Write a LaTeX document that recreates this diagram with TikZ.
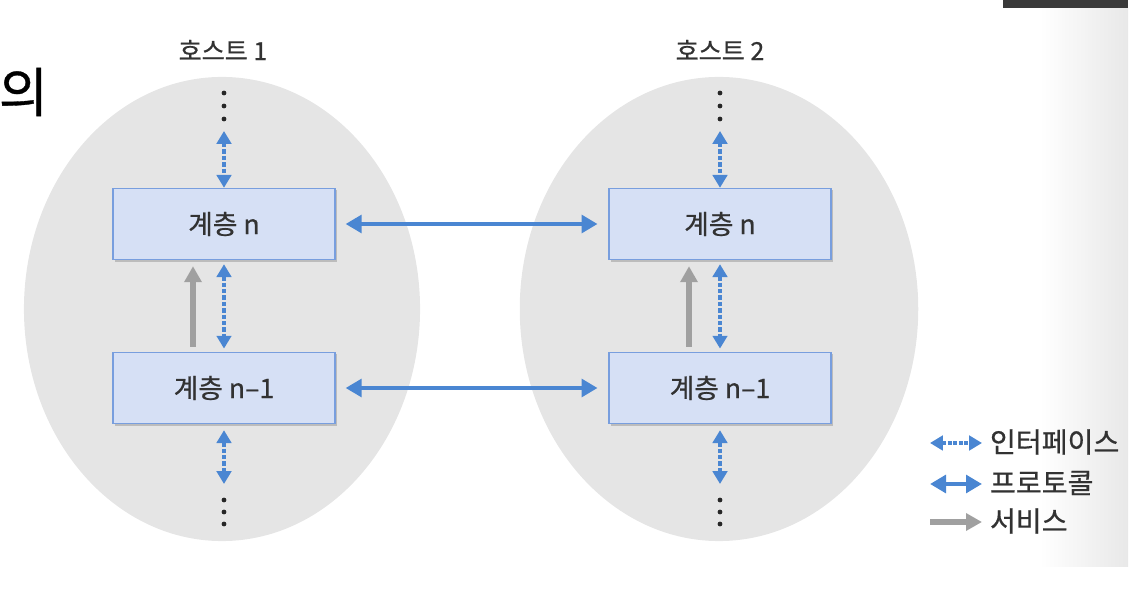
\documentclass[tikz,border=0pt]{standalone}
\usepackage{fontspec}
\setmainfont{Noto Sans CJK KR}[FakeBold=0.6]
\usetikzlibrary{arrows.meta}
\usetikzlibrary{calc}
\usetikzlibrary{shadows}
\definecolor{layerblue}{RGB}{74,134,210}
\definecolor{layerfill}{RGB}{214,224,245}
\definecolor{layerline}{RGB}{120,158,222}
\definecolor{hostgray}{RGB}{229,229,229}
\definecolor{servicegray}{RGB}{160,160,160}
\definecolor{textgray}{RGB}{50,50,50}
\definecolor{bardark}{RGB}{58,58,58}
\tikzstyle{layerbox}=[draw=layerline,line width=0.3mm,fill=layerfill,minimum width=5.55cm,minimum height=1.78cm,text=textgray,font=\fontsize{19}{22}\selectfont,drop shadow={shadow xshift=0.5mm,shadow yshift=-0.5mm,opacity=0.4,fill=gray}]
\tikzstyle{protocol}=[draw=layerblue,line width=1mm,{Triangle[length=4mm,width=4.4mm]}-{Triangle[length=4mm,width=4.4mm]}]
\tikzstyle{interface}=[draw=layerblue,line width=0.8mm,dash pattern=on 1.1mm off 0.5mm,{Triangle[length=3.2mm,width=3.6mm]}-{Triangle[length=3.2mm,width=3.6mm]}]
\tikzstyle{service}=[draw=servicegray,line width=1.3mm,-{Triangle[length=4mm,width=4.2mm]}]
\tikzstyle{hostlabel}=[text=textgray,font=\fontsize{17.8}{20}\selectfont]
\tikzstyle{legendtext}=[anchor=west,text=textgray,font=\fontsize{20}{22}\selectfont]

\begin{document}
\begin{tikzpicture}[x=0.025cm,y=-0.025cm]
    \useasboundingbox (0,0) rectangle (1140,596);

    % slide remains
    \node[anchor=east,text=black,font=\fontsize{38}{40}\selectfont] (titlefrag) at (53,92) {의};
    \fill[bardark] (1003,0) rectangle (1128,8);
    \shade[left color=white,right color=black!9] (1040,9) rectangle (1128,567);

    % hosts
    \fill[hostgray] (222,309) ellipse [x radius=4.95cm, y radius=5.8cm];
    \fill[hostgray] (719,309) ellipse [x radius=4.98cm, y radius=5.8cm];
    \node[hostlabel] (host1) at (223,50) {호스트 1};
    \node[hostlabel] (host2) at (720,50) {호스트 2};

    % layers
    \node[layerbox] (h1n) at (224,224) {계층 n};
    \node[layerbox] (h1m) at (224,388) {계층 n–1};
    \node[layerbox] (h2n) at (720,224) {계층 n};
    \node[layerbox] (h2m) at (720,388) {계층 n–1};

    \foreach \hx/\hn in {224/1,720/2}{
      \foreach \dy in {93,106,119,500,512,524}
        \fill[black!85] (\hx,\dy) circle (0.06cm);
      \coordinate (top\hn) at (\hx,131);
      \coordinate (bot\hn) at (\hx,484);
    }

    % interfaces
    \draw[interface] (top1) -- (h1n);
    \draw[interface,shorten <=0.1cm,shorten >=0.08cm] (h1n.south) -- (h1m.north);
    \draw[interface,shorten <=0.15cm] (h1m.south) -- (bot1);
    \draw[interface] (top2) -- (h2n);
    \draw[interface,shorten <=0.1cm,shorten >=0.08cm] (h2n.south) -- (h2m.north);
    \draw[interface,shorten <=0.15cm] (h2m.south) -- (bot2);

    % services
    \draw[service,shorten <=0.12cm,shorten >=0.15cm] ($(h1m.north)+(-31,0)$) -- ($(h1n.south)+(-31,0)$);
    \draw[service,shorten <=0.12cm,shorten >=0.15cm] ($(h2m.north)+(-31,0)$) -- ($(h2n.south)+(-31,0)$);

    % protocols
    \draw[protocol,shorten <=0.25cm,shorten >=0.27cm] (h1n) -- (h2n);
    \draw[protocol,shorten <=0.25cm,shorten >=0.27cm] (h1m) -- (h2m);

    % legend
    \coordinate (legi1) at (930,443);
    \coordinate (legi2) at (982,443);
    \coordinate (legp1) at (930,484);
    \coordinate (legp2) at (982,484);
    \coordinate (legs1) at (930,522);
    \coordinate (legs2) at (982,522);
    \draw[interface,dash pattern=on 1mm off 0.4mm] (legi1) -- (legi2);
    \draw[protocol] (legp1) -- (legp2);
    \draw[service] (legs1) -- (legs2);
    \node[legendtext] (leginterface) at (985,442) {인터페이스};
    \node[legendtext] (legprotocol) at (985,483) {프로토콜};
    \node[legendtext] (legservice) at (985,521) {서비스};
\end{tikzpicture}
\end{document}
